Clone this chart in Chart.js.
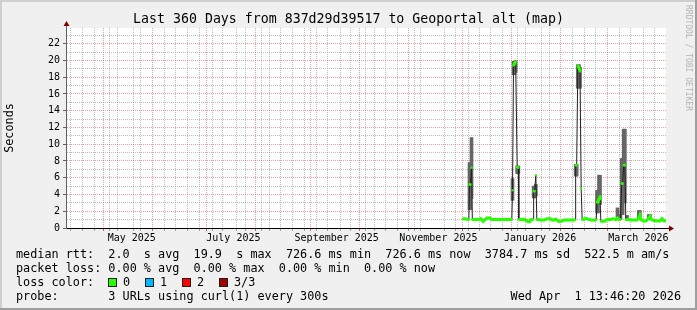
<!DOCTYPE html>
<html>
<head>
<meta charset="utf-8">
<script src="https://cdn.jsdelivr.net/npm/chart.js@4.4.1/dist/chart.umd.min.js"></script>
<style>
  body { margin: 0; background: #f0f0f0; }
  #wrap { position: relative; width: 697px; height: 310px; font-family: 'DejaVu Sans Mono', monospace; color: #000; }
  #chart { position: absolute; left: 0; top: 0; }
  .row { position: absolute; left: 16px; font-size: 11.8px; line-height: 14px; white-space: pre; }
  .box { position: absolute; top: 278px; width: 9px; height: 9px; box-sizing: border-box; border: 1px solid #202020; }
  .lab { position: absolute; top: 275px; font-size: 11.8px; line-height: 14px; white-space: pre; }
  #stamp { position: absolute; right: 16px; top: 289px; font-size: 11.8px; line-height: 14px; white-space: pre; }
  #mark { position: absolute; left: 683px; top: 5px; writing-mode: vertical-rl; font-size: 8px; line-height: 10px; color: #b4b4b4; white-space: pre; }
</style>
</head>
<body>
<div id="wrap">
  <canvas id="chart" width="697" height="310"></canvas>
  <div class="row" style="top:247px">median rtt:  2.0  s avg  19.9  s max  726.6 ms min  726.6 ms now  3784.7 ms sd  522.5 m am/s</div>
  <div class="row" style="top:261px">packet loss: 0.00 % avg  0.00 % max  0.00 % min  0.00 % now</div>
  <div class="row" style="top:275px">loss color:</div>
  <div class="row" style="top:289px">probe:       3 URLs using curl(1) every 300s</div>
  <div id="stamp">Wed Apr  1 13:46:20 2026</div>
  <div id="mark">RRDTOOL / TOBI OETIKER</div>
</div>
<script>
// window shown: last 360 days up to Wed Apr 1 2026 13:46:20
const startTime = Date.UTC(2025, 3, 6, 13, 46, 20);
const spanDays = 360;

// samples: day offset inside the window, median rtt (s), smoke range (s)
const days = [238.2, 239.4, 240.6, 241.7, 242.1, 242.7, 243.3, 243.8, 245.4, 247.2,
  249.0, 250.2, 251.4, 252.6, 254.4, 255.6, 257.4, 259.2, 261.0, 262.8,
  264.6, 266.4, 267.5, 267.9, 268.5, 269.1, 269.8, 270.7, 271.4, 271.7,
  273.6, 275.4, 276.9, 278.1, 279.0, 280.2, 280.6, 281.2, 281.9, 282.5,
  283.2, 285.0, 286.8, 288.6, 290.4, 292.2, 294.0, 295.5, 297.0, 298.8,
  300.0, 301.8, 303.6, 305.4, 305.8, 306.4, 307.1, 307.8, 308.4, 309.1,
  309.7, 310.5, 312.0, 313.5, 315.0, 316.8, 318.1, 318.6, 319.2, 319.8,
  320.4, 320.9, 321.6, 323.1, 324.6, 326.4, 328.2, 330.0, 330.9, 331.8,
  332.7, 333.4, 334.0, 334.6, 335.3, 335.9, 336.6, 337.8, 339.0, 340.8,
  342.6, 343.7, 344.3, 345.0, 346.5, 348.0, 349.7, 350.4, 351.3, 352.8,
  354.6, 356.4, 357.6, 358.8, 359.9];
const medianRtt = [1.1, 1.1, 1.05, 1.0, 5.2, 5.2, 7.2, 1.0, 1.0, 1.0,
  1.1, 0.8, 1.0, 1.2, 1.2, 1.0, 1.0, 1.0, 1.0, 1.0,
  1.0, 1.0, 1.0, 4.5, 19.4, 19.6, 19.9, 7.3, 7.2, 1.0,
  1.0, 1.0, 0.8, 0.75, 1.0, 1.0, 4.4, 4.4, 6.3, 1.0,
  1.0, 0.95, 0.95, 1.1, 1.1, 0.95, 1.05, 0.8, 0.8, 0.95,
  0.95, 0.95, 0.95, 0.95, 7.5, 7.5, 19.4, 19.1, 18.7, 4.7,
  1.0, 1.05, 1.15, 1.05, 0.95, 0.95, 0.95, 3.1, 3.1, 3.5,
  3.8, 0.8, 0.8, 0.8, 1.0, 1.0, 1.1, 1.0, 1.2, 1.0,
  1.0, 5.3, 5.3, 7.5, 7.5, 1.0, 1.0, 1.0, 0.95, 0.95,
  0.95, 1.2, 1.5, 1.0, 0.85, 0.85, 1.2, 1.4, 1.0, 0.9,
  0.85, 0.85, 1.1, 0.85, 0.85];
const smokeLo = [null, null, null, null, 2.2, 2.2, 3.5, null, null, null,
  null, null, null, null, null, null, null, null, null, null,
  null, null, null, 3.3, 18.3, 18.3, 18.6, 6.5, 6.5, null,
  null, null, null, null, null, null, 3.6, 3.6, 3.8, null,
  null, null, null, null, null, null, null, null, null, null,
  null, null, null, null, 6.2, 6.2, 16.7, 16.7, 16.7, null,
  null, null, null, null, null, null, null, 1.8, 1.8, 2.8,
  2.8, null, null, null, null, null, null, null, 1.0, 1.0,
  1.0, 1.6, 1.6, 3.0, 3.0, null, 1.0, null, null, null,
  null, 1.0, 1.0, null, null, null, 1.0, 1.0, null, null,
  null, null, null, null, null];
const smokeHi = [null, null, null, null, 7.8, 7.8, 10.8, null, null, null,
  null, null, null, null, null, null, null, null, null, null,
  null, null, null, 5.9, 19.9, 19.9, 20.0, 7.4, 7.4, null,
  null, null, null, null, null, null, 5.0, 5.0, 5.2, null,
  null, null, null, null, null, null, null, null, null, null,
  null, null, null, null, 7.6, 7.6, 19.5, 19.5, 19.2, null,
  null, null, null, null, null, null, null, 4.5, 4.5, 6.3,
  6.3, null, null, null, null, null, null, null, 2.4, 1.6,
  1.6, 8.3, 8.3, 11.8, 11.8, null, 1.5, null, null, null,
  null, 2.1, 2.1, null, null, null, 1.6, 1.6, null, null,
  null, null, null, null, null];

const yTickLabels = [0, 2, 4, 6, 8, 10, 12, 14, 16, 18, 20, 22];
const monthLabels = ['May 2025', 'July 2025', 'September 2025', 'November 2025', 'January 2026', 'March 2026'];
const labelMonths = [[2025, 4], [2025, 6], [2025, 8], [2025, 10], [2026, 0], [2026, 2]];
const lossColors = ['#26ff00', '#00b8ff', '#ff0000', '#a00000'];
const lossNames = ['0', '1', '2', '3/3'];

const MONO = "'DejaVu Sans Mono', monospace";
const dayOf = (y, m, d) => (Date.UTC(y, m, d) - startTime) / 864e5;

// vertical grid: month starts (major), sundays (minor), label ticks at mid month
const monthStarts = [];
for (let m = 4; m <= 14; m++) monthStarts.push(dayOf(2025, m, 1));
const weekStarts = [];
for (let d = 13; dayOf(2025, 3, d) < spanDays; d += 7) weekStarts.push(dayOf(2025, 3, d));
const labelTicks = labelMonths.map(([y, m]) => dayOf(y, m, 16));

const kind = new Map();
weekStarts.forEach(v => kind.set(v, 'week'));
monthStarts.forEach(v => kind.set(v, 'month'));
labelTicks.forEach(v => kind.set(v, 'label'));
const xTicks = [...kind.keys()].sort((a, b) => a - b);

const MAJOR = 'rgba(225,80,80,0.55)';
const MINOR = 'rgba(143,143,143,0.6)';
const NONE = 'rgba(0,0,0,0)';
const tickVal = c => (c && c.tick) ? c.tick.value : null;

// loss colour legend
const wrap = document.getElementById('wrap');
lossNames.forEach((n, i) => {
    const b = document.createElement('div');
    b.className = 'box';
    b.style.left = (108 + i * 37) + 'px';
    b.style.background = lossColors[i];
    wrap.appendChild(b);
    const t = document.createElement('div');
    t.className = 'lab';
    t.style.left = (123 + i * 37) + 'px';
    t.textContent = n;
    wrap.appendChild(t);
});

const rrdFrame = {
    id: 'rrdFrame',
    beforeDraw(chart) {
        const { ctx, chartArea: a, width, height } = chart;
        ctx.save();
        ctx.fillStyle = '#f0f0f0';
        ctx.fillRect(0, 0, width, height);
        ctx.fillStyle = '#cfcfcf';
        ctx.fillRect(0, 0, width, 2);
        ctx.fillRect(0, 0, 2, height);
        ctx.fillStyle = '#9e9e9e';
        ctx.fillRect(0, height - 2, width, 2);
        ctx.fillRect(width - 2, 0, 2, height);
        ctx.fillStyle = '#ffffff';
        ctx.fillRect(a.left, a.top, a.right - a.left, a.bottom - a.top);
        ctx.restore();
    },
    afterDraw(chart) {
        const { ctx, chartArea: a } = chart;
        ctx.save();
        ctx.lineWidth = 1;
        ctx.strokeStyle = '#000';
        ctx.beginPath();
        ctx.moveTo(a.right, a.bottom + 0.5);
        ctx.lineTo(a.right + 4, a.bottom + 0.5);
        ctx.stroke();
        ctx.strokeStyle = '#606060';
        ctx.beginPath();
        ctx.moveTo(a.left + 0.5, a.top);
        ctx.lineTo(a.left + 0.5, a.top - 3);
        ctx.stroke();
        ctx.fillStyle = '#800000';
        ctx.beginPath();
        ctx.moveTo(a.right + 3, a.bottom - 2.5);
        ctx.lineTo(a.right + 8, a.bottom + 0.5);
        ctx.lineTo(a.right + 3, a.bottom + 3.5);
        ctx.fill();
        ctx.beginPath();
        ctx.moveTo(a.left - 2.5, a.top - 2);
        ctx.lineTo(a.left + 0.5, a.top - 7);
        ctx.lineTo(a.left + 3.5, a.top - 2);
        ctx.fill();
        ctx.restore();
    }
};

const GREEN = lossColors[0];
const smokeData = days.map((d, i) => smokeHi[i] == null ? null : { x: d, y: [smokeLo[i], smokeHi[i]] }).filter(Boolean);
const medianData = days.map((d, i) => ({ x: d, y: medianRtt[i] }));

const ctx = document.getElementById('chart').getContext('2d');

const rttChart = new Chart(ctx, {
    type: 'line',
    data: {
        datasets: [{
            type: 'bar',
            label: 'smoke',
            data: smokeData,
            backgroundColor: '#666666',
            barThickness: 3,
            grouped: false,
            order: 3
        }, {
            label: 'median',
            data: medianData,
            borderColor: '#202020',
            borderWidth: 1,
            pointRadius: 0,
            tension: 0,
            order: 2
        }, {
            label: 'loss 0',
            data: medianData,
            borderColor: GREEN,
            borderWidth: 3,
            pointStyle: 'rect',
            pointRadius: 1.5,
            pointBackgroundColor: GREEN,
            pointBorderWidth: 0,
            tension: 0,
            segment: {
                borderColor: c => Math.abs(c.p0.parsed.y - c.p1.parsed.y) > 0.6 ? NONE : GREEN
            },
            order: 1
        }]
    },
    options: {
        responsive: false,
        animation: false,
        events: [],
        layout: { padding: { left: 0, right: 0, top: 0, bottom: 62 } },
        plugins: {
            legend: { display: false },
            tooltip: { enabled: false },
            title: {
                display: true,
                text: 'Last 360 Days from 837d29d39517 to Geoportal alt (map)',
                color: '#000',
                font: { family: MONO, size: 13.25, weight: 'normal' },
                padding: { top: 12, bottom: 0.1 }
            }
        },
        scales: {
            x: {
                type: 'linear',
                min: 0,
                max: spanDays,
                offset: false,
                afterBuildTicks: s => { s.ticks = xTicks.map(v => ({ value: v })); },
                afterFit: s => { s.height = 20; },
                ticks: {
                    autoSkip: false,
                    maxRotation: 0,
                    minRotation: 0,
                    padding: 1,
                    color: '#000',
                    font: { family: MONO, size: 10 },
                    callback: v => {
                        const i = labelTicks.indexOf(v);
                        return i >= 0 ? monthLabels[i] : '';
                    }
                },
                grid: {
                    lineWidth: 1,
                    tickLength: 3,
                    color: c => {
                        const k = kind.get(tickVal(c));
                        return k === 'month' ? MAJOR : k === 'week' ? MINOR : NONE;
                    },
                    tickColor: c => {
                        const k = kind.get(tickVal(c));
                        return k === 'month' ? 'rgba(200,60,60,0.8)' : k === 'week' ? 'rgba(143,143,143,0.8)' : NONE;
                    }
                },
                border: { display: true, color: '#000', width: 1, dash: [1, 1] }
            },
            y: {
                min: 0,
                max: 23.88,
                afterBuildTicks: s => {
                    const t = [];
                    for (let v = 0; v <= 23; v++) t.push({ value: v });
                    s.ticks = t;
                },
                afterFit: s => { s.width = 66; },
                ticks: {
                    autoSkip: false,
                    padding: 3,
                    color: '#000',
                    font: { family: MONO, size: 10 },
                    callback: v => yTickLabels.includes(v) ? String(v) : ''
                },
                grid: {
                    lineWidth: 1,
                    tickLength: 3,
                    color: c => tickVal(c) % 2 === 0 ? MAJOR : MINOR,
                    tickColor: c => tickVal(c) % 2 === 0 ? '#606060' : NONE
                },
                border: { display: true, color: '#606060', width: 1, dash: [1, 1] },
                title: {
                    display: true,
                    text: 'Seconds',
                    color: '#000',
                    font: { family: MONO, size: 11.8 },
                    padding: { top: 3, bottom: 0 }
                }
            },
            // empty right-hand box so the plot ends at 666 while the title stays centred on the page
            yRight: {
                position: 'right',
                display: true,
                min: 0,
                max: 23.88,
                afterFit: s => { s.width = 31; },
                ticks: { display: false },
                grid: { display: false, drawTicks: false },
                border: { display: false }
            }
        }
    },
    plugins: [rrdFrame]
});
</script>
</body>
</html>
